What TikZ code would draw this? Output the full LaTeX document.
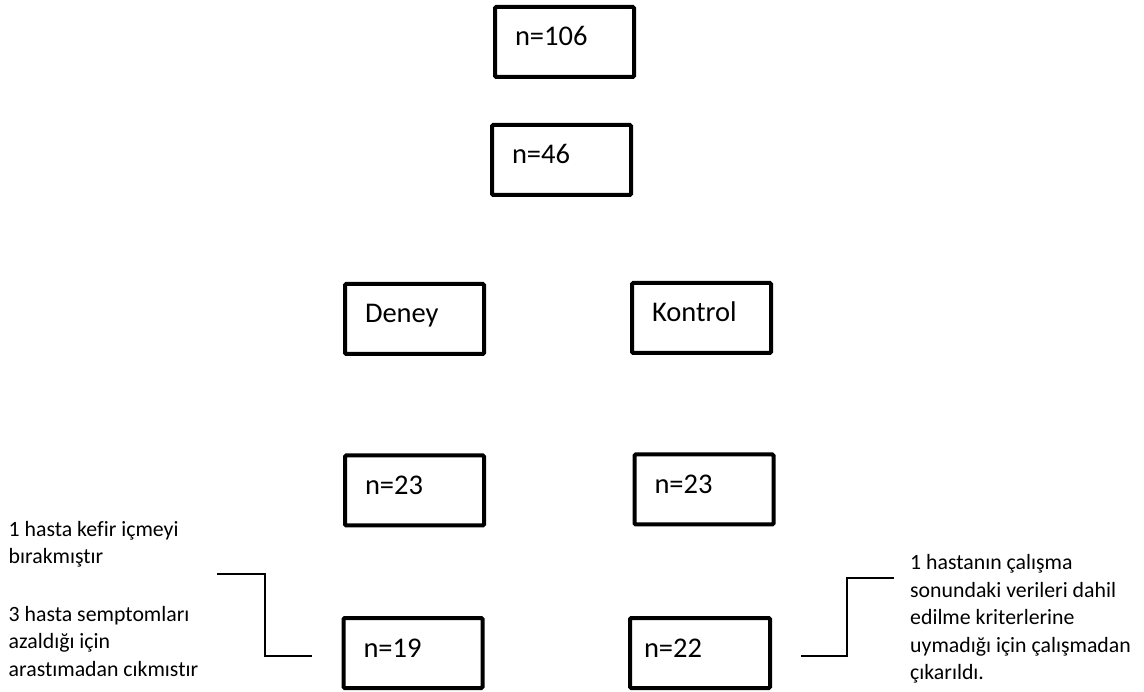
\documentclass[tikz,border=0pt]{standalone}
\usepackage{fontspec}
\setmainfont{Carlito}[Ligatures=NoCommon]
\begin{document}
\begin{tikzpicture}[x=1pt,y=-1pt,
  boxnode/.style={draw=black, line width=4pt, rounded corners=1.2pt,
    minimum height=70pt, text width=99pt, inner xsep=20pt, inner ysep=0pt,
    align=left, font=\fontsize{28.5}{34}\selectfont,
    text height=0.9em, text depth=0.1em},
  sidenote/.style={anchor=north west, inner sep=0pt, align=left,
    font=\fontsize{21.8}{27.5}\selectfont},
  link/.style={draw=black, line width=1.3pt}]
\useasboundingbox (0,0) rectangle (1144,692);
\node[boxnode] (b1) at (564.5,42) {n=106};
\node[boxnode] (b2) at (561.5,160) {n=46};
\node[boxnode] (deney) at (414.5,319) {Deney};
\node[boxnode] (kontrol) at (701.5,318) {Kontrol};
\node[boxnode] (d23) at (414.5,490.5) {n=23};
\node[boxnode] (k23) at (704,489.5) {n=23};
\node[boxnode] (d19) at (413,653) {n=19};
\node[boxnode, inner xsep=14pt, text width=112pt] (k22) at (700,653) {n=22};
\node[sidenote] (leftnote) at (8.5,517) {\strut 1 hasta kefir içmeyi\\ bırakmıştır\\[30pt] 3 hasta semptomları\\ azaldığı için\\ arastımadan cıkmıstır};
\node[sidenote] (rightnote) at (910,550.5) {\strut 1 hastanın çalışma\\ sonundaki verileri dahil\\ edilme kriterlerine\\ uymadığı için çalışmadan\\ çıkarıldı.};
\coordinate (la) at (217,574);
\coordinate (lb) at (312,656);
\coordinate (ra) at (801,656);
\coordinate (rb) at (894,578);
\draw[link] (la) -- ++(48,0) |- (lb);
\draw[link] (ra) -- ++(46,0) |- (rb);
\end{tikzpicture}
\end{document}
